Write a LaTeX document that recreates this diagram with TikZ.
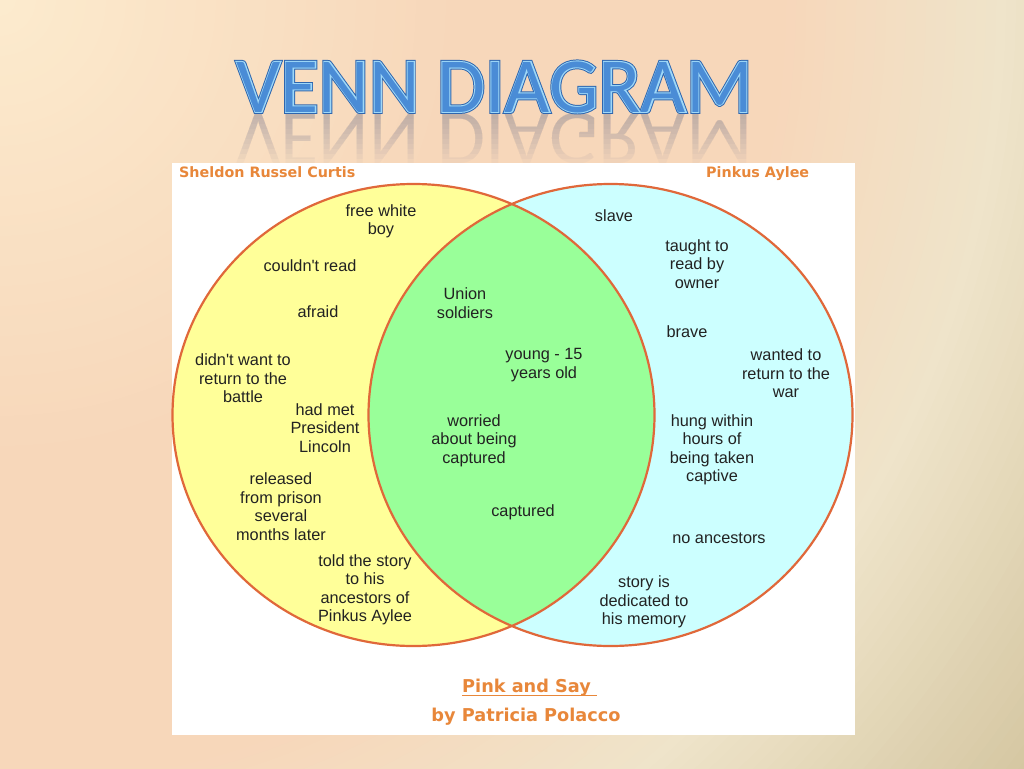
\documentclass[tikz,border=0pt]{standalone}
\usepackage{fontspec}
\newfontfamily\bodyfont{Liberation Sans}
\newfontfamily\titlefont{Carlito}
\newfontfamily\titlefontA{Carlito}[FakeBold=5]
\newfontfamily\titlefontB{Carlito}[FakeBold=2.5]
\newfontfamily\headfont{DejaVu Sans}
\definecolor{bgA}{HTML}{FCEBCE}
\definecolor{bgB}{HTML}{F7D7BA}
\definecolor{bgC}{HTML}{EFE4CA}
\definecolor{bgD}{HTML}{D3C59F}
\definecolor{yel}{HTML}{FFFF99}
\definecolor{grn}{HTML}{99FF99}
\definecolor{cyn}{HTML}{CCFFFF}
\definecolor{ringc}{HTML}{E0683A}
\definecolor{orng}{HTML}{E8873A}
\definecolor{txt}{HTML}{222222}
\definecolor{tmain}{HTML}{4A8CD6}
\definecolor{tlight}{HTML}{9ED8F8}
\definecolor{tdark}{HTML}{2F66AE}
\definecolor{trefl}{HTML}{7F7F95}
\tikzset{
  item/.style={font=\bodyfont\fontsize{16.3}{18.5}\selectfont, text=txt, align=center, inner sep=0pt},
  head/.style={font=\headfont\bfseries\fontsize{14.3}{16}\selectfont, text=orng, inner sep=0pt},
  foot/.style={font=\headfont\bfseries\fontsize{17.7}{20}\selectfont, text=orng, inner sep=0pt},
  ttl/.style={inner sep=0pt, anchor=base},
  ring/.style={draw=ringc, line width=2.2pt}
}
\begin{document}
\begin{tikzpicture}[x=1pt,y=-1pt]
\useasboundingbox (0,0) rectangle (1024,768);
% background: radial gradient from the top-left corner
\begin{scope}
  \clip (0,0) rectangle (1024,768);
  \foreach \r in {1320,1310,...,0} {
    \pgfmathsetmacro{\t}{\r/13}
    \pgfmathsetmacro{\pA}{min(100,max(0,\t/35*100))}
    \pgfmathsetmacro{\pC}{min(100,max(0,(\t-60)/17*100))}
    \pgfmathsetmacro{\pD}{min(100,max(0,(\t-77)/23*100))}
    \colorlet{cA}{bgB!\pA!bgA}
    \colorlet{cB}{bgC!\pC!cA}
    \colorlet{cC}{bgD!\pD!cB}
    \fill[cC] (0,0) circle [radius=\r+6];
  }
\end{scope}
% title reflection (fading by stacked bands)
\foreach \k in {1,...,10} {
  \begin{scope}
    \clip (0,113) rectangle (1024,{113+5*\k});
    \node[ttl, font=\titlefont\fontsize{78}{78}\selectfont, yscale=-1, transform shape, text=trefl, text opacity=0.05] (refl\k) at (494.5,113) {VENN DIAGRAM};
  \end{scope}
}
% title
\node[ttl, font=\titlefontA\fontsize{78}{78}\selectfont, text=tdark] (titleA) at (494.5,112) {VENN DIAGRAM};
\node[ttl, font=\titlefontB\fontsize{78}{78}\selectfont, text=tlight] (titleB) at (494.5,112) {VENN DIAGRAM};
\node[ttl, font=\titlefont\fontsize{78}{78}\selectfont, text=tmain] (title) at (494.5,112) {VENN DIAGRAM};
% panel
\fill[white] (172,163) rectangle (855,735);
% venn
\fill[yel] (413.5,415) ellipse [x radius=241, y radius=231];
\fill[cyn] (610.5,415) ellipse [x radius=242, y radius=231];
\begin{scope}
  \clip (413.5,415) ellipse [x radius=241, y radius=231];
  \fill[grn] (610.5,415) ellipse [x radius=242, y radius=231];
\end{scope}
\draw[ring] (413.5,415) ellipse [x radius=241, y radius=231];
\draw[ring] (610.5,415) ellipse [x radius=242, y radius=231];
% headings
\node[head, anchor=base west] (hL) at (179,177) {Sheldon Russel Curtis};
\node[head, anchor=base west] (hR) at (706,177) {Pinkus Aylee};
% left items
\node[item] (fwb) at (381,221.5) {free white\\boy};
\node[item] (cr) at (310,266) {couldn't read};
\node[item] (af) at (318,312) {afraid};
\node[item] (dw) at (243,378.5) {didn't want to\\return to the\\battle};
\node[item] (hm) at (325,428) {had met\\President\\Lincoln};
\node[item] (rel) at (281,506.5) {released\\from prison\\several\\months later};
\node[item] (told) at (365,590) {told the story\\to his\\ancestors of\\Pinkus Aylee};
% middle items
\node[item] (us) at (465,303) {Union\\soldiers};
\node[item] (yg) at (544,365) {young - 15\\years old};
\node[item] (wor) at (474,440.5) {worried\\about being\\captured};
\node[item] (cap) at (523,512) {captured};
% right items
\node[item] (sl) at (614,216) {slave};
\node[item] (tt) at (697,264) {taught to\\read by\\owner};
\node[item] (br) at (687,331.5) {brave};
\node[item] (wt) at (786,373.5) {wanted to\\return to the\\war};
\node[item] (hung) at (712,450) {hung within\\hours of\\being taken\\captive};
\node[item] (noa) at (719,538.5) {no ancestors};
\node[item] (story) at (644,602) {story is\\dedicated to\\his memory};
% footer
\node[foot, anchor=base west] (book) at (462,692) {Pink and Say};
\draw[orng, line width=1.6pt] (462,695.5) -- (597,695.5);
\node[foot, anchor=base] (auth) at (526,721) {by Patricia Polacco};
\end{tikzpicture}
\end{document}
